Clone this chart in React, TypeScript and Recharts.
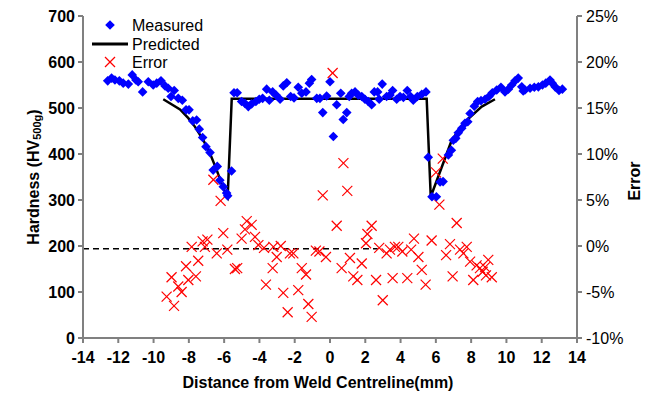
import React from 'react';
import { ComposedChart, Scatter, Line, XAxis, YAxis, Legend } from 'recharts';

// Measured hardness (HV500g) vs distance from weld centreline (mm)
const measured = [
  { x: -12.6, y: 559 }, { x: -12.38, y: 565 }, { x: -12.19, y: 561 }, { x: -11.94, y: 559 },
  { x: -11.72, y: 554 }, { x: -11.43, y: 552 }, { x: -11.21, y: 572 }, { x: -11.0, y: 561 },
  { x: -10.87, y: 557 }, { x: -10.62, y: 535 }, { x: -10.3, y: 557 }, { x: -10.02, y: 550 },
  { x: -9.82, y: 554 }, { x: -9.58, y: 559 }, { x: -9.35, y: 548 }, { x: -9.17, y: 543 },
  { x: -9.01, y: 525 }, { x: -8.83, y: 538 }, { x: -8.6, y: 521 }, { x: -8.37, y: 517 },
  { x: -8.16, y: 496 }, { x: -7.99, y: 496 }, { x: -7.78, y: 472 }, { x: -7.56, y: 474 },
  { x: -7.41, y: 454 }, { x: -7.22, y: 436 }, { x: -7.03, y: 416 }, { x: -6.8, y: 403 },
  { x: -6.62, y: 365 }, { x: -6.39, y: 373 }, { x: -6.24, y: 343 }, { x: -6.05, y: 329 },
  { x: -5.86, y: 315 }, { x: -5.8, y: 309 }, { x: -5.58, y: 363 },
  { x: -5.44, y: 533 }, { x: -5.26, y: 533 }, { x: -5.01, y: 514 }, { x: -4.82, y: 510 },
  { x: -4.63, y: 503 }, { x: -4.44, y: 509 }, { x: -4.2, y: 514 }, { x: -4.01, y: 519 },
  { x: -3.82, y: 521 }, { x: -3.59, y: 541 }, { x: -3.44, y: 517 }, { x: -3.25, y: 535 },
  { x: -3.06, y: 528 }, { x: -2.83, y: 519 }, { x: -2.65, y: 548 }, { x: -2.45, y: 555 },
  { x: -2.23, y: 525 }, { x: -2.04, y: 522 }, { x: -1.8, y: 545 }, { x: -1.6, y: 532 },
  { x: -1.36, y: 535 }, { x: -1.17, y: 554 }, { x: -1.04, y: 562 }, { x: -0.75, y: 521 },
  { x: -0.57, y: 521 }, { x: -0.41, y: 490 }, { x: -0.19, y: 526 }, { x: 0.0, y: 557 },
  { x: 0.19, y: 438 }, { x: 0.38, y: 507 }, { x: 0.61, y: 532 }, { x: 0.75, y: 475 },
  { x: 0.95, y: 490 }, { x: 1.09, y: 525 }, { x: 1.23, y: 532 }, { x: 1.42, y: 535 },
  { x: 1.6, y: 528 }, { x: 1.8, y: 525 }, { x: 1.98, y: 519 }, { x: 2.17, y: 514 },
  { x: 2.36, y: 507 }, { x: 2.51, y: 535 }, { x: 2.7, y: 535 }, { x: 2.79, y: 519 },
  { x: 2.96, y: 552 }, { x: 3.21, y: 525 }, { x: 3.4, y: 528 }, { x: 3.55, y: 538 },
  { x: 3.78, y: 519 }, { x: 3.97, y: 525 }, { x: 4.16, y: 523 }, { x: 4.38, y: 538 },
  { x: 4.57, y: 525 }, { x: 4.72, y: 517 }, { x: 4.95, y: 525 }, { x: 5.2, y: 530 },
  { x: 5.44, y: 535 },
  { x: 5.57, y: 393 }, { x: 5.78, y: 307 }, { x: 6.03, y: 307 }, { x: 6.24, y: 339 },
  { x: 6.41, y: 340 }, { x: 6.71, y: 398 }, { x: 6.88, y: 408 }, { x: 6.99, y: 430 },
  { x: 7.13, y: 434 }, { x: 7.27, y: 446 }, { x: 7.47, y: 456 }, { x: 7.65, y: 467 },
  { x: 7.81, y: 470 }, { x: 7.94, y: 488 }, { x: 8.18, y: 504 }, { x: 8.37, y: 514 },
  { x: 8.56, y: 516 }, { x: 8.79, y: 519 }, { x: 9.01, y: 525 }, { x: 9.2, y: 533 },
  { x: 9.45, y: 539 }, { x: 9.69, y: 545 }, { x: 9.92, y: 535 }, { x: 10.11, y: 541 },
  { x: 10.3, y: 550 }, { x: 10.49, y: 559 }, { x: 10.67, y: 565 }, { x: 10.87, y: 546 },
  { x: 10.95, y: 537 }, { x: 11.05, y: 539 }, { x: 11.34, y: 543 }, { x: 11.58, y: 545 },
  { x: 11.81, y: 546 }, { x: 12.04, y: 550 }, { x: 12.23, y: 554 }, { x: 12.47, y: 561 },
  { x: 12.6, y: 554 }, { x: 12.76, y: 546 }, { x: 12.98, y: 538 }, { x: 13.17, y: 541 },
];

// Predicted hardness profile
const predicted = [
  { x: -9.45, y: 519 }, { x: -8.5, y: 497 }, { x: -8.03, y: 478 }, { x: -7.65, y: 459 },
  { x: -7.18, y: 430 }, { x: -6.8, y: 401 }, { x: -6.42, y: 365 }, { x: -6.05, y: 325 },
  { x: -5.8, y: 307 }, { x: -5.57, y: 520 }, { x: 5.48, y: 520 }, { x: 5.71, y: 307 },
  { x: 6.3, y: 368 }, { x: 6.9, y: 430 }, { x: 7.65, y: 470 }, { x: 8.6, y: 503 },
  { x: 9.35, y: 519 },
];

// Error (%) between predicted and measured
const errors = [
  { x: -9.26, e: -5.5 }, { x: -8.98, e: -3.4 }, { x: -8.84, e: -6.5 }, { x: -8.6, e: -4.4 },
  { x: -8.41, e: -5.0 }, { x: -8.16, e: -2.2 }, { x: -8.03, e: -3.7 }, { x: -7.84, e: -0.1 },
  { x: -7.6, e: -3.3 }, { x: -7.47, e: -1.6 }, { x: -7.22, e: 0.5 }, { x: -7.09, e: -0.1 },
  { x: -6.95, e: 0.7 }, { x: -6.61, e: 7.2 }, { x: -6.42, e: -0.8 }, { x: -6.2, e: 4.9 },
  { x: -6.05, e: 1.4 }, { x: -5.82, e: -0.4 }, { x: -5.39, e: -2.5 }, { x: -5.26, e: -2.4 },
  { x: -5.01, e: 0.8 }, { x: -4.82, e: 1.8 }, { x: -4.72, e: 2.7 }, { x: -4.44, e: 2.3 },
  { x: -4.25, e: 1.0 }, { x: -4.06, e: 0.1 }, { x: -3.74, e: -0.2 }, { x: -3.63, e: -4.2 },
  { x: -3.25, e: -2.4 }, { x: -3.21, e: -0.1 }, { x: -3.02, e: -1.2 }, { x: -2.79, e: 0.0 },
  { x: -2.65, e: -5.1 }, { x: -2.4, e: -7.2 }, { x: -2.27, e: -0.8 }, { x: -2.08, e: -0.8 },
  { x: -1.8, e: -4.8 }, { x: -1.6, e: -2.4 }, { x: -1.36, e: -3.1 }, { x: -1.23, e: -6.3 },
  { x: -1.04, e: -7.7 }, { x: -0.8, e: -0.5 }, { x: -0.6, e: -0.6 }, { x: -0.41, e: 5.5 },
  { x: -0.23, e: -1.2 }, { x: 0.15, e: 18.8 }, { x: 0.38, e: 2.2 }, { x: 0.66, e: -2.4 },
  { x: 0.76, e: 9.0 }, { x: 0.98, e: 6.0 }, { x: 1.13, e: -1.3 }, { x: 1.32, e: -3.3 },
  { x: 1.55, e: -3.7 }, { x: 1.8, e: -1.9 }, { x: 2.04, e: 0.3 }, { x: 2.12, e: 1.3 },
  { x: 2.36, e: 2.2 }, { x: 2.61, e: -3.7 }, { x: 2.79, e: -0.2 }, { x: 2.99, e: -5.9 },
  { x: 3.21, e: -0.8 }, { x: 3.4, e: -0.4 }, { x: 3.55, e: -3.5 }, { x: 3.68, e: -0.1 },
  { x: 3.87, e: -0.1 }, { x: 4.1, e: -0.6 }, { x: 4.38, e: -3.5 }, { x: 4.6, e: -0.4 },
  { x: 4.76, e: 0.8 }, { x: 5.01, e: -1.2 }, { x: 5.2, e: -2.6 }, { x: 5.42, e: -4.2 },
  { x: 5.76, e: 0.6 }, { x: 6.01, e: 8.0 }, { x: 6.2, e: 4.5 }, { x: 6.39, e: 9.5 },
  { x: 6.58, e: -1.0 }, { x: 6.8, e: 0.2 }, { x: 6.95, e: -3.3 }, { x: 7.18, e: 2.5 },
  { x: 7.37, e: -0.4 }, { x: 7.56, e: -0.8 }, { x: 7.75, e: -0.1 }, { x: 7.94, e: -1.7 },
  { x: 8.12, e: -3.7 }, { x: 8.31, e: -2.1 }, { x: 8.5, e: -2.4 }, { x: 8.65, e: -2.8 },
  { x: 8.79, e: -2.3 }, { x: 8.84, e: -3.2 }, { x: 8.97, e: -1.5 }, { x: 9.17, e: -3.4 },
];

// Dashed error reference line
const errorTrend = [
  { x: -14, e: -0.3 },
  { x: 2.7, e: -0.3 },
];

const xTicks = [-14, -12, -10, -8, -6, -4, -2, 0, 2, 4, 6, 8, 10, 12, 14];
const hardnessTicks = [0, 100, 200, 300, 400, 500, 600, 700];
const errorTicks = [-10, -5, 0, 5, 10, 15, 20, 25];

const FONT = 'Liberation Sans, Arial, Helvetica, sans-serif';
const AXIS = '#808080';

const Diamond = (props: any) => {
  const { cx, cy } = props;
  if (cx == null || cy == null) return null;
  const r = 4.8;
  return <path d={`M${cx},${cy - r}L${cx + r},${cy}L${cx},${cy + r}L${cx - r},${cy}Z`} fill="#0000FF" />;
};

const Cross = (props: any) => {
  const { cx, cy } = props;
  if (cx == null || cy == null) return null;
  const r = 5;
  return (
    <g stroke="#FF0000" strokeWidth={1.2}>
      <line x1={cx - r} y1={cy - r} x2={cx + r} y2={cy + r} />
      <line x1={cx - r} y1={cy + r} x2={cx + r} y2={cy - r} />
    </g>
  );
};

const LegendBox = () => (
  <svg width={150} height={66} style={{ display: 'block', overflow: 'visible' }}>
    <g fontFamily={FONT} fontSize={16} fill="#000">
      <Diamond cx={25} cy={13} />
      <text x={47} y={13} dy="0.36em">Measured</text>
      <line x1={7} y1={32} x2={43} y2={32} stroke="#000" strokeWidth={3} />
      <text x={47} y={32} dy="0.36em">Predicted</text>
      <Cross cx={25} cy={50} />
      <text x={47} y={50} dy="0.36em">Error</text>
    </g>
  </svg>
);

const LeftTitle = () => (
  <text
    x={33}
    y={177}
    transform="rotate(-90 33 177)"
    textAnchor="middle"
    dominantBaseline="central"
    fontFamily={FONT}
    fontSize={16}
    fontWeight="bold"
    fill="#000"
  >
    Hardness (HV<tspan fontSize={11} dy={4}>500g</tspan><tspan dy={-4}>)</tspan>
  </text>
);

const RightTitle = () => (
  <text
    x={634}
    y={181}
    transform="rotate(-90 634 181)"
    textAnchor="middle"
    dominantBaseline="central"
    fontFamily={FONT}
    fontSize={16}
    fontWeight="bold"
    fill="#000"
  >
    Error
  </text>
);

const BottomTitle = () => (
  <text
    x={318}
    y={382}
    textAnchor="middle"
    dominantBaseline="central"
    fontFamily={FONT}
    fontSize={16}
    fontWeight="bold"
    fill="#000"
  >
    Distance from Weld Centreline(mm)
  </text>
);

export default function App() {
  return (
    <div style={{ position: 'absolute', left: 0, top: 0, width: 650, height: 396, background: '#fff' }}>
      <ComposedChart width={650} height={396} margin={{ top: 16, right: 0, bottom: 0, left: 0 }}>
        <XAxis
          type="number"
          dataKey="x"
          domain={[-14, 14]}
          ticks={xTicks}
          allowDataOverflow
          height={58}
          stroke={AXIS}
          strokeWidth={2}
          tickSize={5}
          tickMargin={9}
          tick={{ fill: '#000', fontSize: 16, fontWeight: 'bold', fontFamily: FONT }}
          label={{ content: () => <BottomTitle /> }}
        />
        <YAxis
          yAxisId="left"
          type="number"
          dataKey="y"
          domain={[0, 700]}
          ticks={hardnessTicks}
          allowDataOverflow
          width={83}
          stroke={AXIS}
          strokeWidth={2}
          tickSize={5}
          tickMargin={3}
          tick={{ fill: '#000', fontSize: 16, fontWeight: 'bold', fontFamily: FONT }}
          label={{ content: () => <LeftTitle /> }}
        />
        <YAxis
          yAxisId="right"
          orientation="right"
          type="number"
          dataKey="e"
          domain={[-10, 25]}
          ticks={errorTicks}
          allowDataOverflow
          width={73}
          stroke={AXIS}
          strokeWidth={2}
          tickSize={5}
          tickMargin={4}
          tickFormatter={(v: number) => `${v}%`}
          tick={{ fill: '#000', fontSize: 16, fontFamily: FONT }}
          label={{ content: () => <RightTitle /> }}
        />
        <Legend
          layout="vertical"
          align="center"
          verticalAlign="middle"
          wrapperStyle={{ position: 'absolute', left: 85, top: 12, width: 150, height: 66 }}
          content={() => <LegendBox />}
        />
        <Line
          yAxisId="right"
          data={errorTrend}
          dataKey="e"
          type="linear"
          stroke="#000"
          strokeWidth={1.6}
          strokeDasharray="6 4"
          dot={false}
          activeDot={false}
          legendType="none"
          isAnimationActive={false}
        />
        <Scatter
          yAxisId="right"
          data={errors}
          dataKey="e"
          name="Error"
          shape={<Cross />}
          isAnimationActive={false}
        />
        <Scatter
          yAxisId="left"
          data={measured}
          dataKey="y"
          name="Measured"
          shape={<Diamond />}
          isAnimationActive={false}
        />
        <Line
          yAxisId="left"
          data={predicted}
          dataKey="y"
          name="Predicted"
          type="linear"
          stroke="#000"
          strokeWidth={2.5}
          dot={false}
          activeDot={false}
          isAnimationActive={false}
        />
      </ComposedChart>
    </div>
  );
}
